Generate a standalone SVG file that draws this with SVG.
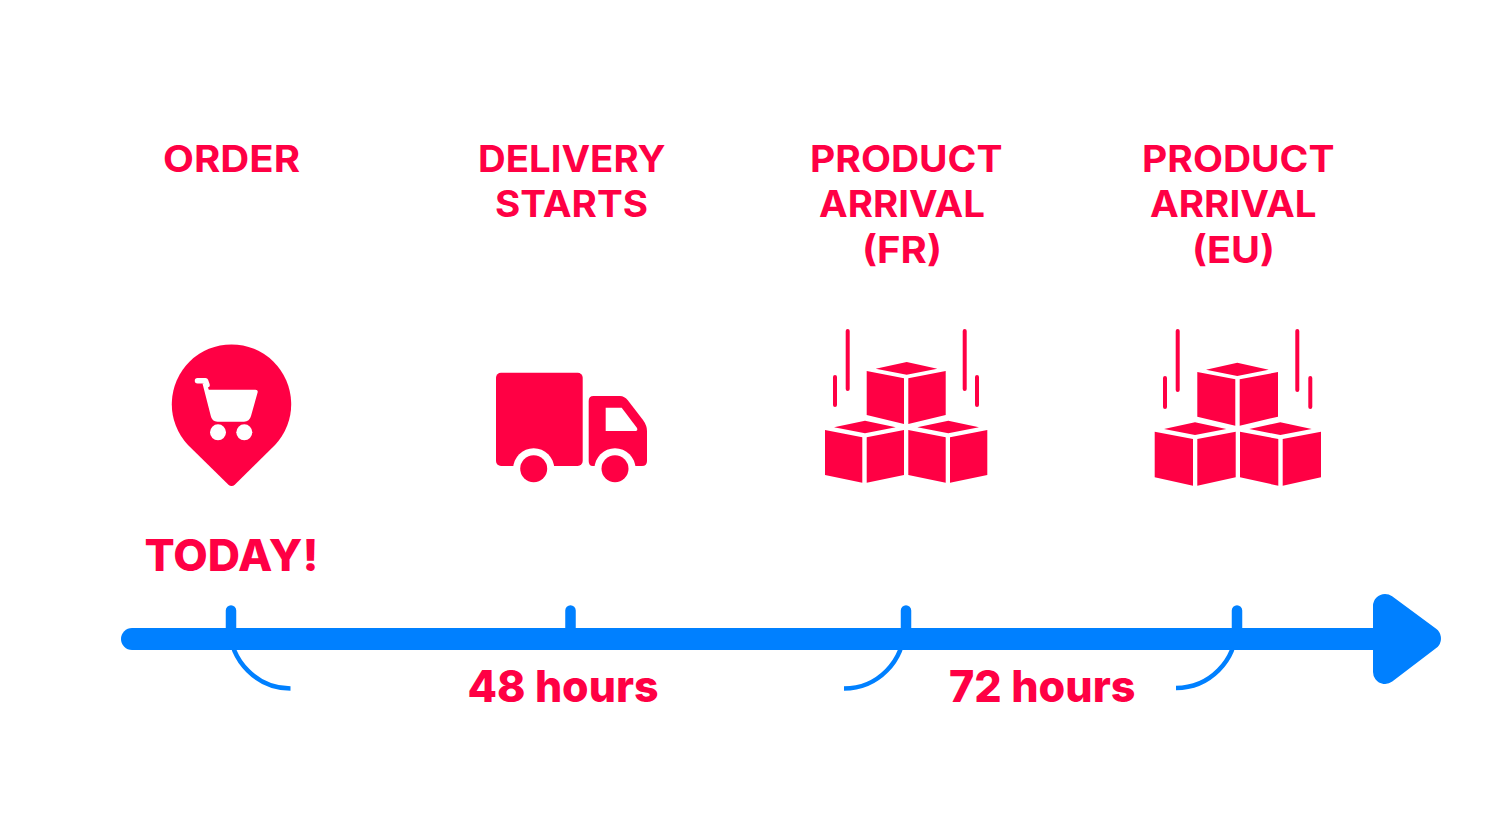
<svg xmlns="http://www.w3.org/2000/svg" width="1500" height="825" viewBox="0 0 1500 825">
<style>
.t{font-family:Inter,"Liberation Sans",sans-serif;font-weight:700;fill:#ff0044;text-anchor:start}
.h{font-size:36.5px}
.b{font-size:44px;font-weight:800}
.r{fill:#ff0044}
.w{fill:#fff}
.f{stroke:#ff0044;stroke-width:4;stroke-linecap:round;fill:none}
.tick{stroke:#0080ff;stroke-width:10.5;stroke-linecap:round;fill:none}
.arc{stroke:#0080ff;stroke-width:4.5;fill:none}
</style>
<rect width="1500" height="825" fill="#fff"/>
<g id="connectors">
<path class="arc" d="M230 628A61 61 0 0 0 290.500 688.500"/>
<path class="arc" d="M904 628A60 60 0 0 1 844 688.500"/>
<path class="arc" d="M1236 628A60 60 0 0 1 1176 688"/>
<path class="tick" d="M231 610.500V640M570.500 610.500V640M906 610.500V640M1237 610.500V640"/>
<path d="M132 639H1400" stroke="#0080ff" stroke-width="22" stroke-linecap="round" fill="none"/>
<polygon points="1385,606 1429,638.500 1385,672" fill="#0080ff" stroke="#0080ff" stroke-width="24" stroke-linejoin="round"/>
</g>
<g id="order">
<text class="t h" x="163" y="172" textLength="137" lengthAdjust="spacingAndGlyphs">ORDER</text>
<path class="r" d="M188 445A59.700 59.700 0 1 1 275 445L235 484.500Q231.600 487.500 228.200 484.500Z"/>
<path class="w" d="M202.500 383.500H206.500L208.800 389.800H255.500Q258.300 389.800 257.600 392.500L251 416Q249.500 421.700 244 421.700H217.500Q212 421.700 210.800 416Z"/>
<path d="M197.500 380.700H205.500L207 385" stroke="#fff" stroke-width="5.500" stroke-linecap="round" stroke-linejoin="round" fill="none"/>
<circle class="w" cx="218" cy="432.300" r="8"/>
<circle class="w" cx="244.300" cy="432.300" r="8"/>
<text class="t b" x="144.500" y="571" textLength="174" lengthAdjust="spacingAndGlyphs">TODAY!</text>
</g>
<g id="delivery">
<text class="t h" x="478" y="172" textLength="187.500" lengthAdjust="spacingAndGlyphs">DELIVERY</text>
<text class="t h" x="495" y="217" textLength="153" lengthAdjust="spacingAndGlyphs">STARTS</text>
<rect class="r" x="496" y="372.700" width="86.700" height="93.300" rx="5"/>
<path class="r" d="M593.500 396H620Q624.500 396 628 400.500L643 420Q647 425.500 647 431V461Q647 466 642 466H592.700Q588.700 466 588.700 461V401Q588.700 396 593.500 396Z"/>
<path class="w" d="M605.700 407.700H621.700L637 428Q638 431 635.500 431H605.700Z"/>
<circle class="w" cx="533.700" cy="468.700" r="20.500"/>
<circle class="w" cx="615" cy="468.700" r="20.500"/>
<circle class="r" cx="533.700" cy="468.700" r="13.500"/>
<circle class="r" cx="615" cy="468.700" r="13.500"/>
</g>
<g id="arrival-fr">
<text class="t h" x="810" y="172" textLength="192.500" lengthAdjust="spacingAndGlyphs">PRODUCT</text>
<text class="t h" x="819" y="217" textLength="166" lengthAdjust="spacingAndGlyphs">ARRIVAL</text>
<text class="t h" x="862" y="262.500" textLength="80" lengthAdjust="spacingAndGlyphs">(FR)</text>
<path class="f" d="M847.700 331V389M835 377V405M964.700 331V389M977 377V405"/>
<path class="r" d="M866.700 371L904 378.300V424L866.700 415ZM908.300 378.300L945.700 371V415L908.300 424ZM875.700 368.700L906.700 362L937.300 368.700L906.700 374.700Z"/>
<path class="r" d="M825 430L862.300 437.300V482.700L825 475ZM866.700 437.300L904 430V475L866.700 482.700ZM834 427.300L865 420.700L895.700 427.300L865 433.300Z"/>
<path class="r" d="M908.300 430L945.700 437.300V482.700L908.300 475ZM950 437.300L987.300 430V475L950 482.700ZM917.300 427.300L948.300 420.700L979 427.300L948.300 433.300Z"/>
</g>
<g id="arrival-eu">
<text class="t h" x="1142" y="172" textLength="192.500" lengthAdjust="spacingAndGlyphs">PRODUCT</text>
<text class="t h" x="1150" y="217" textLength="166.500" lengthAdjust="spacingAndGlyphs">ARRIVAL</text>
<text class="t h" x="1192" y="262.500" textLength="83" lengthAdjust="spacingAndGlyphs">(EU)</text>
<path class="f" d="M1177.700 331V390M1165 378V407M1297.300 331V390M1310.300 378V407"/>
<path class="r" d="M1197.300 372L1235.300 379.300V425.700L1197.300 416.700ZM1239.700 379.300L1278 372V416.700L1239.700 425.700ZM1206 369.700L1237.300 362.700L1268.700 369.700L1237.300 376Z"/>
<path class="r" d="M1154.700 431.700L1193 439V485.700L1154.700 477.300ZM1197.300 439L1235.700 431.700V477.300L1197.300 485.700ZM1164 429L1195 422.300L1226.300 429L1195 435Z"/>
<path class="r" d="M1240 431.700L1278.300 439V485.700L1240 477.300ZM1282.700 439L1321 431.700V477.300L1282.700 485.700ZM1249.300 429L1280.300 422.300L1311.700 429L1280.300 435Z"/>
</g>
<g id="label-48">
<text class="t b" x="467.500" y="702" textLength="191" lengthAdjust="spacingAndGlyphs">48 hours</text>
</g>
<g id="label-72">
<text class="t b" x="949" y="702" textLength="186.500" lengthAdjust="spacingAndGlyphs">72 hours</text>
</g>
</svg>
